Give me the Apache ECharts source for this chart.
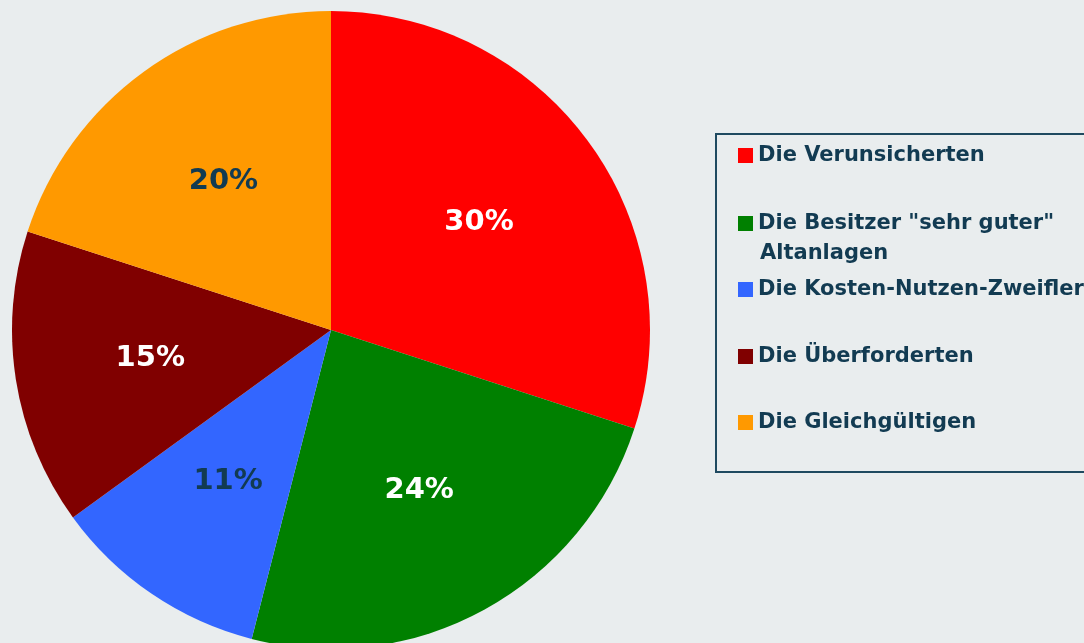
<!DOCTYPE html>
<html>
<head>
<meta charset="utf-8">
<script src="https://cdn.jsdelivr.net/npm/echarts@6/dist/echarts.min.js"></script>
<style>
  html, body { margin: 0; padding: 0; background: #e9edee; }
  #chart { width: 1084px; height: 643px; }
</style>
</head>
<body>
<div id="chart"></div>
<script>
/* Verteilung der Typen - Kreisdiagramm */
var names = ['Die Verunsicherten', 'Die Besitzer "sehr guter" Altanlagen', 'Die Kosten-Nutzen-Zweifler', 'Die Überforderten', 'Die Gleichgültigen'];
var values = [30, 24, 11, 15, 20];
var colors = ['#ff0000', '#008000', '#3366ff', '#800000', '#ff9900'];
var labelColors = ['#ffffff', '#ffffff', '#123b52', '#ffffff', '#123b52'];
var legendTops = [145, 213, 279, 346, 412];

(function(){
	var myChart = echarts.init(document.getElementById('chart'));
	var textColor = '#123b52';
	var font = 'DejaVu Sans';

	var pieData = [];
	var labelData = [];
	for (var i = 0; i < names.length; i++) {
		pieData.push({ name: names[i], value: values[i], itemStyle: { color: colors[i] } });
		labelData.push({
			name: names[i], value: values[i],
			itemStyle: { color: 'rgba(0,0,0,0)' },
			label: { color: labelColors[i] }
		});
	}

	// ein Legenden-Eintrag pro Kategorie, damit die Abstände stimmen
	var legends = [];
	for (var j = 0; j < names.length; j++) {
		legends.push({
			data: [names[j]],
			left: 738,
			top: legendTops[j],
			orient: 'vertical',
			icon: 'rect',
			itemWidth: 15,
			itemHeight: 15,
			itemGap: 6,
			padding: 0,
			selectedMode: false,
			formatter: function(name){
				return name.replace(' Altanlagen', '');
			},
			textStyle: {
				color: textColor,
				fontFamily: font,
				fontWeight: 'bold',
				fontSize: 21
			}
		});
	}

	var option = {
		backgroundColor: '#e9edee',
		animation: false,
		legend: legends,
		graphic: [
			{
				type: 'rect',
				shape: { x: 716, y: 134, width: 400, height: 338 },
				style: { fill: 'none', stroke: '#1f4a60', lineWidth: 2 },
				silent: true
			},
			{
				type: 'text',
				left: 760,
				top: 243,
				style: {
					text: 'Altanlagen',
					fill: textColor,
					font: 'bold 21px "DejaVu Sans"'
				},
				silent: true
			}
		],
		series: [
			{
				type: 'pie',
				center: [331, 330],
				radius: 319,
				startAngle: 90,
				clockwise: true,
				silent: true,
				label: { show: false },
				labelLine: { show: false },
				data: pieData
			},
			{
				// unsichtbare Hilfsserie nur für die Prozent-Beschriftung
				type: 'pie',
				center: [331, 330],
				radius: [0, 360],
				startAngle: 90,
				clockwise: true,
				silent: true,
				label: {
					show: true,
					position: 'inside',
					formatter: '{c}%',
					fontFamily: font,
					fontWeight: 'bold',
					fontSize: 29
				},
				labelLine: { show: false },
				data: labelData
			}
		]
	};
	myChart.setOption(option);
})();
</script>
</body>
</html>
